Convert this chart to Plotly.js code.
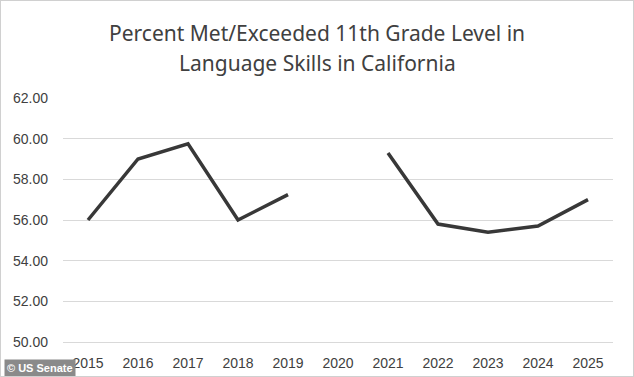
<!DOCTYPE html>
<html>
<head>
<meta charset="utf-8">
<script src="https://cdn.plot.ly/plotly-3.0.1.min.js"></script>
<style>
html,body{margin:0;padding:0;background:#fff;}
#wrap{position:relative;width:634px;height:377px;}
#chart{width:634px;height:377px;}
#frame{position:absolute;left:0;top:0;width:634px;height:377px;box-sizing:border-box;border:1px solid #d0d0d0;pointer-events:none;}
</style>
</head>
<body>
<div id="wrap"><div id="chart"></div><div id="frame"></div></div>
<script>
var years = ['2015','2016','2017','2018','2019','2020','2021','2022','2023','2024','2025'];
var percentMet = [56.0, 59.0, 59.75, 56.0, 57.25, null, 59.3, 55.8, 55.4, 55.7, 57.0];
var yTicks = [50, 52, 54, 56, 58, 60, 62];
var yTickLabels = ['50.00','52.00','54.00','56.00','58.00','60.00','62.00'];
var titleLines = ['Percent Met/Exceeded 11th Grade Level in', 'Language Skills in California'];

var trace = {
  x: years,
  y: percentMet,
  type: 'scatter',
  mode: 'lines',
  connectgaps: false,
  line: {color: '#383838', width: 3.5},
  hoverinfo: 'x+y'
};

var titleFont = {family: 'Noto Sans, Open Sans, sans-serif', size: 21, color: '#404040'};

var layout = {
  width: 634,
  height: 377,
  margin: {l: 63, r: 21, t: 98, b: 35},
  paper_bgcolor: '#ffffff',
  plot_bgcolor: '#ffffff',
  showlegend: false,
  xaxis: {
    type: 'category',
    range: [-0.5, 10.5],
    showgrid: false,
    showline: true,
    linecolor: '#d9d9d9',
    linewidth: 1,
    ticks: '',
    ticklabelstandoff: 8,
    tickfont: {family: 'Liberation Sans, Arial, sans-serif', size: 14, color: '#404040'},
    zeroline: false,
    fixedrange: true
  },
  yaxis: {
    range: [50, 62],
    tickvals: yTicks,
    ticktext: yTickLabels,
    showgrid: true,
    gridcolor: '#d9d9d9',
    gridwidth: 1,
    showline: false,
    zeroline: false,
    ticks: '',
    ticklabelstandoff: 14,
    tickfont: {family: 'Liberation Sans, Arial, sans-serif', size: 14, color: '#404040'},
    fixedrange: true
  },
  annotations: [
    {
      text: titleLines[0],
      xref: 'paper', yref: 'paper',
      x: (317 - 63) / 550, y: (342 - 33) / 244,
      xanchor: 'center', yanchor: 'middle',
      showarrow: false, font: titleFont
    },
    {
      text: titleLines[1],
      xref: 'paper', yref: 'paper',
      x: (317 - 63) / 550, y: (342 - 63) / 244,
      xanchor: 'center', yanchor: 'middle',
      showarrow: false, font: titleFont
    },
    {
      text: '<b>© US Senate</b>',
      xref: 'paper', yref: 'paper',
      x: -59 / 550, y: -35 / 244,
      xanchor: 'left', yanchor: 'bottom',
      showarrow: false,
      bgcolor: '#8a8a8a',
      font: {family: 'Liberation Sans, Arial, sans-serif', size: 11, color: '#ffffff'},
      borderpad: 2
    }
  ]
};

Plotly.newPlot('chart', [trace], layout, {displayModeBar: false, staticPlot: true});
</script>
</body>
</html>
